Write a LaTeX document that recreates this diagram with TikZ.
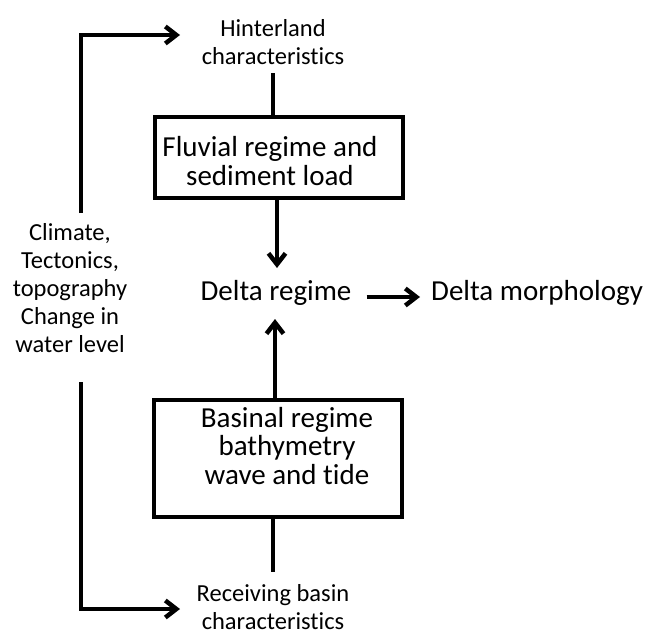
\documentclass[tikz,border=0pt]{standalone}
\usepackage{fontspec}
\setmainfont{Carlito}[Ligatures=NoCommon]
\usetikzlibrary{arrows.meta}
\tikzset{
  small/.style={font=\fontsize{24.5}{28}\selectfont, align=center, inner sep=0pt, anchor=base},
  large/.style={font=\fontsize{29}{28.3}\selectfont, align=center, inner sep=0pt, anchor=base},
  regbox/.style={draw, line width=4pt, inner sep=0pt},
  conn/.style={line width=4.5pt},
  arr/.style={line width=4.5pt, -{Straight Barb[length=11pt,width=17pt]}},
}
\begin{document}
\begin{tikzpicture}[x=1pt,y=-1pt]
\useasboundingbox (0,0) rectangle (645,637);
% boxes
\node[regbox, minimum width=248pt, minimum height=81pt] (fluvbox) at (279,157.5) {};
\node[regbox, minimum width=248pt, minimum height=117pt] (basinbox) at (278,458.5) {};
% texts (anchor base = baseline of the last line)
\node[small] (hint) at (273,64) {Hinterland\\characteristics};
\node[large] (fluv) at (270,185) {Fluvial regime and\\sediment load};
\node[large] (delta) at (276,300) {Delta regime};
\node[large, anchor=base west] (morph) at (431,300) {Delta morphology};
\node[large] (basin) at (287,484) {Basinal regime\\bathymetry\\wave and tide};
\node[small] (recv) at (273,629) {Receiving basin\\characteristics};
\node[small] (clim) at (70,352) {Climate,\\Tectonics,\\topography\\Change in\\water level};
% coordinates for the side loop
\coordinate (lt) at (81,213);
\coordinate (lb) at (81,382);
\coordinate (ht) at (180,35);
\coordinate (rt) at (180,609);
% connectors
\draw[conn] (hint.south |- 0,73) -- (hint.south |- fluvbox.north);
\draw[arr] ([xshift=-2pt]fluvbox.south) -- ([xshift=-2pt]fluvbox.south |- 0,268);
\draw[arr] ([xshift=-3pt]basinbox.north) -- ([xshift=-3pt]basinbox.north |- 0,319);
\draw[arr] ([xshift=15pt]delta.east |- 0,297) -- ([xshift=-11pt]morph.west |- 0,297);
\draw[conn] (recv.north |- basinbox.south) -- (recv.north |- 0,572);
\draw[arr] (lt) |- (ht);
\draw[arr] (lb) |- (rt);
\end{tikzpicture}
\end{document}
